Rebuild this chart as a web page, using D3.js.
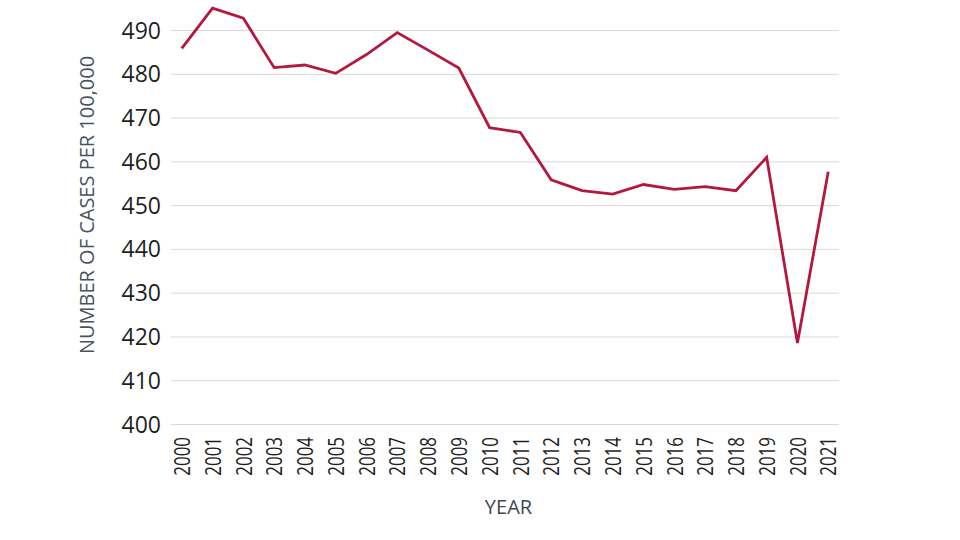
<!DOCTYPE html>
<html>
<head>
<meta charset="utf-8">
<script src="https://cdn.jsdelivr.net/npm/d3@7"></script>
<style>
  html, body { margin: 0; padding: 0; background: #fff; }
  svg { display: block; }
</style>
</head>
<body>
<svg id="chart" width="960" height="540"></svg>
<script>
const years = ["2000","2001","2002","2003","2004","2005","2006","2007","2008","2009","2010",
               "2011","2012","2013","2014","2015","2016","2017","2018","2019","2020","2021"];
const cases = [485.8, 495.0, 492.7, 481.4, 482.0, 480.1, 484.4, 489.4, 485.4, 481.3, 467.7,
               466.6, 455.8, 453.3, 452.5, 454.7, 453.6, 454.2, 453.3, 460.9, 418.5, 457.6];
const yTicks = [400, 410, 420, 430, 440, 450, 460, 470, 480, 490];
const yTitle = "NUMBER OF CASES PER 100,000";
const xTitle = "YEAR";

(function () {
const svg = d3.select("#chart");
const plotLeft = 171, plotRight = 839, plotTop = 30, plotBottom = 424;

const x = d3.scalePoint().domain(years).range([plotLeft, plotRight]).padding(0.35);
const y = d3.scaleLinear().domain([400, 490]).range([plotBottom, plotTop]);

// gridlines + y labels
const yAxis = d3.axisLeft(y).tickValues(yTicks).tickSize(-(plotRight - plotLeft)).tickPadding(10).tickFormat(d3.format("d"));
const gy = svg.append("g").attr("transform", `translate(${plotLeft},0)`).call(yAxis);
gy.select(".domain").remove();
gy.selectAll(".tick line").attr("stroke", "#d9d9d9").attr("stroke-width", 1);
gy.selectAll(".tick text")
  .attr("font-family", "'Open Sans', sans-serif")
  .attr("font-size", 23)
  .attr("fill", "#1f1f1f")
  .attr("x", -10)
  .attr("dy", "0.35em");

// x axis labels
const xAxis = d3.axisBottom(x).tickSize(0).tickPadding(0);
const gx = svg.append("g").attr("transform", `translate(0,${plotBottom})`).call(xAxis);
gx.select(".domain").remove();
gx.selectAll(".tick text")
  .attr("font-family", "'Open Sans', sans-serif")
  .attr("font-size", 22)
  .attr("fill", "#1f1f1f")
  .attr("text-anchor", "end")
  .attr("x", 0).attr("y", 0)
  .attr("dy", "0.35em")
  .attr("transform", "translate(0,13) rotate(-90) scale(0.77,1)");

// line
const line = d3.line().x((d, i) => x(years[i])).y(d => y(d));
svg.append("path")
  .datum(cases)
  .attr("fill", "none")
  .attr("stroke", "#b3183f")
  .attr("stroke-width", 2.8)
  .attr("stroke-linejoin", "miter")
  .attr("d", line);

// titles
svg.append("text")
  .attr("transform", "translate(94,205) rotate(-90)")
  .attr("text-anchor", "middle")
  .attr("font-family", "'Open Sans', sans-serif")
  .attr("font-size", 20)
  .attr("fill", "#4a5160")
  .text(yTitle);

svg.append("text")
  .attr("x", 508.5).attr("y", 514)
  .attr("text-anchor", "middle")
  .attr("font-family", "'Open Sans', sans-serif")
  .attr("font-size", 20)
  .attr("fill", "#3f4654")
  .text(xTitle);
})();
</script>
</body>
</html>
